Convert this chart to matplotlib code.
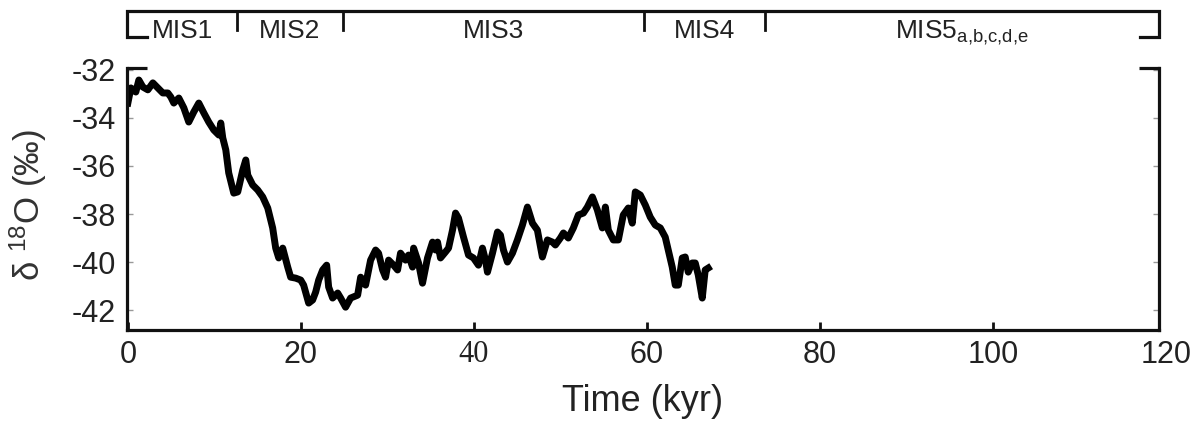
import numpy as np
import matplotlib
matplotlib.use('Agg')
import matplotlib.pyplot as plt

plt.rcParams['font.family'] = ['Liberation Sans', 'DejaVu Sans']
plt.rcParams['mathtext.fontset'] = 'custom'
plt.rcParams['mathtext.rm'] = 'Liberation Sans'
plt.rcParams['mathtext.it'] = 'Liberation Sans:italic'
plt.rcParams['mathtext.bf'] = 'Liberation Sans:bold'

# ice core d18O record (kyr BP vs permil)
time_kyr = [0.0, 0.35, 0.92, 1.27, 1.73, 2.31, 2.89, 3.46, 4.04, 4.62, 4.97, 5.31, 5.89,
            6.47, 7.04, 7.62, 8.20, 8.78, 9.35, 9.93, 10.51, 10.74, 10.97, 11.32, 11.66,
            12.24, 12.70, 13.28, 13.63, 13.86, 14.43, 15.01, 15.59, 16.17, 16.74, 17.09,
            17.44, 17.90, 18.48, 18.82, 19.40, 19.98, 20.32, 20.90, 21.36, 21.71, 22.06,
            22.52, 22.98, 23.21, 23.67, 24.25, 24.60, 25.17, 25.75, 26.56, 26.91, 27.48,
            28.06, 28.64, 28.98, 29.45, 29.79, 30.14, 30.72, 31.18, 31.52, 32.10, 32.45,
            32.91, 33.03, 33.60, 34.06, 34.64, 35.22, 35.57, 35.80, 36.14, 36.72, 37.07,
            37.53, 37.88, 38.22, 38.80, 39.38, 39.95, 40.53, 40.99, 41.34, 41.57, 42.15,
            42.73, 43.07, 43.42, 43.88, 44.46, 45.03, 45.61, 46.19, 46.77, 47.34, 47.92,
            48.50, 49.08, 49.42, 50.00, 50.35, 50.92, 51.50, 52.08, 52.66, 53.12, 53.70,
            54.27, 54.85, 55.20, 55.54, 56.12, 56.70, 57.27, 57.85, 58.31, 58.66, 59.24,
            59.82, 60.39, 60.97, 61.55, 62.12, 62.47, 62.93, 63.28, 63.63, 64.09, 64.43,
            64.78, 65.24, 65.59, 65.94, 66.40, 66.74, 67.09]
d18o = [-33.38, -32.75, -32.92, -32.42, -32.71, -32.83, -32.54, -32.75, -32.96, -32.96,
        -33.13, -33.38, -33.17, -33.58, -34.17, -33.75, -33.38, -33.79, -34.17, -34.50,
        -34.71, -34.21, -34.83, -35.33, -36.29, -37.13, -37.08, -36.17, -35.75, -36.38,
        -36.79, -37.00, -37.29, -37.75, -38.58, -39.42, -39.83, -39.42, -40.21, -40.63,
        -40.67, -40.75, -40.96, -41.71, -41.58, -41.25, -40.75, -40.33, -40.13, -41.04,
        -41.50, -41.29, -41.50, -41.88, -41.50, -41.38, -40.63, -40.96, -39.92, -39.50,
        -39.63, -40.33, -40.63, -39.92, -40.13, -40.33, -39.63, -39.92, -39.71, -40.21,
        -39.42, -40.04, -40.88, -39.83, -39.17, -39.50, -39.17, -39.83, -39.58, -39.42,
        -38.67, -37.96, -38.17, -38.96, -39.71, -39.83, -40.13, -39.42, -39.92, -40.42,
        -39.63, -38.75, -38.88, -39.50, -40.00, -39.63, -39.08, -38.46, -37.71, -38.38,
        -38.67, -39.79, -39.08, -39.17, -39.29, -39.00, -38.79, -39.00, -38.58, -38.04,
        -37.96, -37.71, -37.29, -37.83, -38.58, -37.71, -38.67, -39.08, -39.08, -38.04,
        -37.75, -38.38, -37.08, -37.21, -37.63, -38.13, -38.46, -38.58, -38.96, -39.50,
        -40.21, -40.96, -40.96, -39.83, -39.79, -40.42, -40.04, -40.04, -40.54, -41.50,
        -40.33, -40.25]

# marine isotope stage boundaries (kyr) and names
mis_bounds = [12.6, 24.9, 59.7, 73.6]
mis_names = ['MIS1', 'MIS2', 'MIS3', 'MIS4', r'MIS5$_{\mathrm{a{,}b{,}c{,}d{,}e}}$']

x_ticks = [0, 20, 40, 60, 80, 100]
y_ticks = [-42, -40, -38, -36, -34, -32]

W, H = 1199, 423
fig = plt.figure(figsize=(W / 100, H / 100), dpi=100)
ax = fig.add_axes([127 / W, 1 - 330 / H, (1159 - 127) / W, (330 - 68) / H])

xmin, xmax = -0.1, 119.2
ax.plot(time_kyr, d18o, color='k', lw=5, solid_joinstyle='round')
ax.set_xlim(xmin, xmax)
ax.set_ylim(-42.83, -31.92)

for s in ['left', 'right', 'bottom']:
    ax.spines[s].set_linewidth(2.3)
    ax.spines[s].set_color('#111111')
ax.spines['top'].set_visible(False)
# little stubs at the top corners
ax.plot([0, 0.019], [1, 1], transform=ax.transAxes, color='#111111', lw=2.3,
        clip_on=False, solid_capstyle='butt')
ax.plot([0.981, 1.0011], [1, 1], transform=ax.transAxes, color='#111111', lw=2.3,
        clip_on=False, solid_capstyle='butt')

ax.set_xticks(x_ticks)
ax.set_yticks(y_ticks)
ax.set_yticklabels([str(v) for v in y_ticks])
ax.tick_params(axis='x', direction='in', length=6, width=2, color='#111111',
               labelsize=22, labelcolor='#222222', pad=7)
ax.tick_params(axis='y', direction='in', length=4, width=1, color='#999999',
               right=True, labelsize=22, labelcolor='#222222', pad=8)
ax.get_xticklabels()[2].set_fontfamily('Liberation Serif')
ax.annotate('120', xy=(120, 0), xycoords=('data', 'axes fraction'), xytext=(0, -7),
            textcoords='offset points', ha='center', va='top', fontsize=22,
            color='#222222', annotation_clip=False)

ax.set_xlabel('Time (kyr)', fontsize=26, color='#222222', labelpad=10)
fig.text(28 / W, 1 - 205 / H, r'δ $^{18}$O (‰)', rotation=90, ha='center', va='center',
         fontsize=25, color='#333333')

# MIS bar on top
axm = fig.add_axes([127 / W, 1 - 45 / H, (1159 - 127) / W, 40 / H])
axm.set_xlim(xmin, xmax)
axm.set_ylim(0, 1)
axm.axis('off')
top = 0.84
axm.plot([xmin + 2.3, xmin, xmin, xmax, xmax, xmax - 2.2], [0.2, 0.2, top, top, 0.2, 0.2],
         color='#111111', lw=2.3, clip_on=False, solid_joinstyle='miter')
for b in mis_bounds:
    axm.plot([b, b], [top, 0.37], color='#111111', lw=2, clip_on=False)
edges = [0] + mis_bounds + [xmax]
for i, name in enumerate(mis_names):
    xc = (edges[i] + edges[i + 1]) / 2
    axm.text(xc, 0.18, name, ha='center', va='baseline', fontsize=19, color='#222222')

fig.savefig('out.png', dpi=100)
